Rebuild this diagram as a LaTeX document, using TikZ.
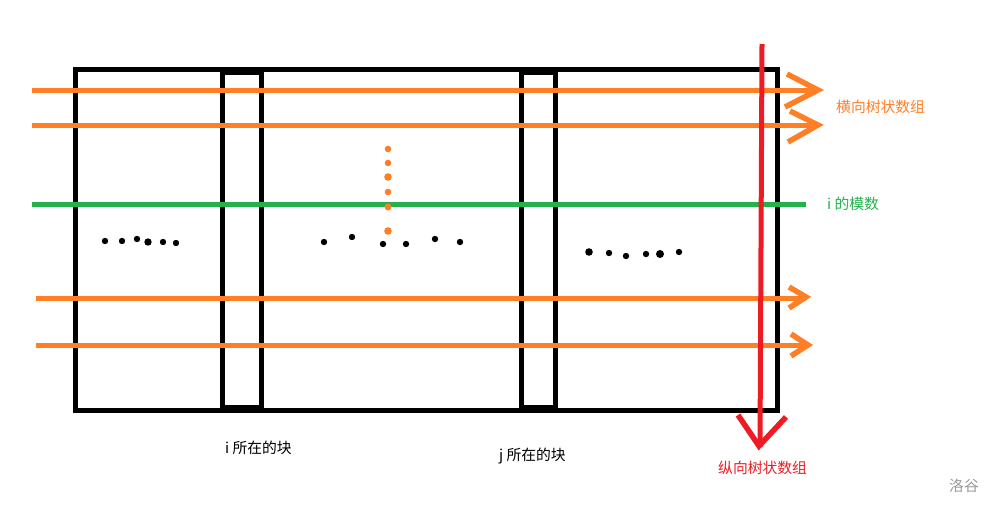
\documentclass[tikz,border=0pt]{standalone}
\usepackage{fontspec}
\newfontfamily\cjk{Noto Sans CJK SC}
\definecolor{porange}{HTML}{FF7F27}
\definecolor{pgreen}{HTML}{22B14C}
\definecolor{pred}{HTML}{ED1C24}
\definecolor{pgray}{HTML}{999999}
\begin{document}
\begin{tikzpicture}[x=1pt,y=-1pt,
  frame/.style={draw=black,line width=5pt},
  oline/.style={draw=porange,line width=5pt},
  gline/.style={draw=pgreen,line width=5pt},
  rline/.style={draw=pred,line width=5pt},
  chev/.style={line width=5.5pt,line join=miter,line cap=butt},
  bdot/.style={fill=black},
  odot/.style={fill=porange},
  lbl/.style={font=\cjk\fontsize{14.8}{17}\selectfont,inner sep=0pt,anchor=west}]
\useasboundingbox (0,0) rectangle (992,506);
% frame
\draw[frame] (75,69) rectangle (777,410);
\draw[frame] (222,69) -- (222,410);
\draw[frame] (261,69) -- (261,410);
\draw[frame] (222,72) -- (261,72);
\draw[frame] (222,407) -- (261,407);
\draw[frame] (521,69) -- (521,410);
\draw[frame] (555,69) -- (555,410);
\draw[frame] (521,72) -- (555,72);
\draw[frame] (521,407) -- (555,407);
% orange horizontal arrows
\draw[oline] (32,90) -- (818,90);
\draw[draw=porange,chev] (787,74) -- (818,90) -- (785,107);
\draw[oline] (32,125) -- (818,125);
\draw[draw=porange,chev] (790,111) -- (818,125) -- (788,142);
\draw[oline] (36,298) -- (806,298);
\draw[draw=porange,chev] (789,287) -- (806,297) -- (789,308);
\draw[oline] (36,345) -- (808,345);
\draw[draw=porange,chev] (791,334) -- (808,345) -- (791,356);
% green line
\draw[gline] (32,204) -- (806,204);
% red vertical arrow
\draw[rline] (762,44) -- (760,447);
\draw[draw=pred,chev] (738,415) -- (759,446) -- (786,417);
% orange dots
\foreach \y/\r in {149/3.3,163/3.3,177/3.8,192/3.3,207/3.5,231/3.8}
  \fill[odot] (388,\y) circle (\r);
% black dots
\foreach \x/\y/\r in {105/241/3.2,122/241/3.2,137/239/3.2,148/242/3.7,163/242/3.2,176/243/3.2,
  324/242/3.2,352/237/3.2,383/244/3.2,406/244/3.2,435/239/3.2,460/242/3.2,
  589/252/3.8,609/253/3.2,626/256/3.2,646/254/3.2,660/254/4,679/252/3.2}
  \fill[bdot] (\x,\y) circle (\r);
% labels
\node[lbl,text=porange] (hlab) at (836,107) {横向树状数组};
\node[lbl,text=pgreen] (glab) at (827,204) {i 的模数};
\node[lbl,text=black] (ilab) at (225,448) {i 所在的块};
\node[lbl,text=black] (jlab) at (499,456) {j 所在的块};
\node[lbl,text=pred] (vlab) at (718,468) {纵向树状数组};
\node[lbl,text=pgray] (lg) at (949,486) {洛谷};
\end{tikzpicture}
\end{document}
